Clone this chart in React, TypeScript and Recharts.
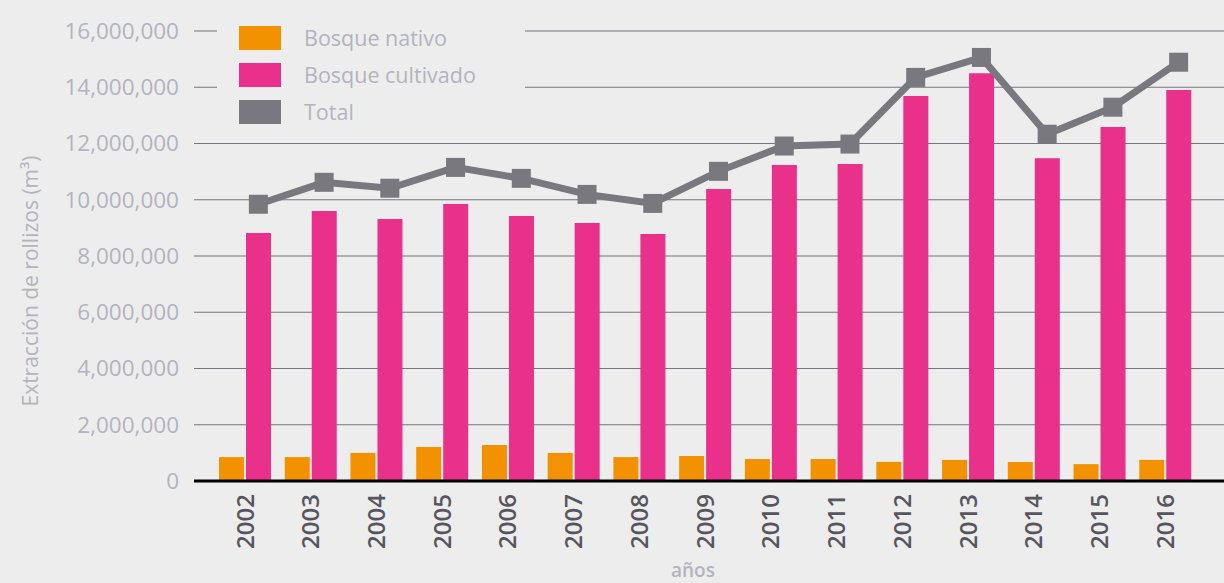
import React from 'react';
import { ComposedChart, Bar, Line, XAxis, YAxis, CartesianGrid, Legend } from 'recharts';

const years = ['2002', '2003', '2004', '2005', '2006', '2007', '2008', '2009', '2010', '2011', '2012', '2013', '2014', '2015', '2016'];
const bosqueNativo = [850000, 850000, 1000000, 1210000, 1280000, 1000000, 850000, 890000, 780000, 780000, 680000, 750000, 680000, 600000, 750000];
const bosqueCultivado = [8820000, 9600000, 9320000, 9850000, 9420000, 9170000, 8780000, 10380000, 11240000, 11270000, 13690000, 14500000, 11480000, 12590000, 13900000];
const totalValues = [9840000, 10620000, 10410000, 11150000, 10760000, 10190000, 9870000, 11010000, 11910000, 11980000, 14350000, 15060000, 12330000, 13290000, 14890000];
const yTicks = [0, 2000000, 4000000, 6000000, 8000000, 10000000, 12000000, 14000000, 16000000];

const data = years.map((y, i) => ({
  year: y,
  nativo: bosqueNativo[i],
  cultivado: bosqueCultivado[i],
  total: totalValues[i],
}));

const FONT = '"Open Sans", "DejaVu Sans", sans-serif';
const ORANGE = '#f39200';
const PINK = '#e9308a';
const GRAY = '#79787f';
const LIGHT_TEXT = '#b4b3bf';
const DARK_TEXT = '#57565f';

const legendItems = [
  { label: 'Bosque nativo', color: ORANGE },
  { label: 'Bosque cultivado', color: PINK },
  { label: 'Total', color: GRAY },
];

const LegendContent = () => (
  <div style={{ position: 'relative', width: 308, height: 110, background: '#ededed' }}>
    {legendItems.map((it, i) => (
      <div key={it.label} style={{ position: 'absolute', left: 22, top: 8 + i * 37, display: 'flex', alignItems: 'center' }}>
        <div style={{ width: 42, height: 24, background: it.color }} />
        <span style={{ marginLeft: 23, fontFamily: FONT, fontSize: 21.5, fontWeight: 500, color: LIGHT_TEXT, lineHeight: '24px' }}>{it.label}</span>
      </div>
    ))}
  </div>
);

const XTick = (props: any) => {
  const { x, y, payload } = props;
  return (
    <text
      x={0}
      y={0}
      dy="0.36em"
      textAnchor="end"
      transform={`translate(${x},${y + 13}) rotate(-90)`}
      fontFamily={FONT}
      fontSize={24}
      fontWeight={600}
      fill={DARK_TEXT}
    >
      {payload.value}
    </text>
  );
};

const SquareDot = (props: any) => {
  const { cx, cy, index } = props;
  if (cx == null || cy == null) return <g key={`d${index}`} />;
  return <rect key={`d${index}`} x={cx - 9.5} y={cy - 9.5} width={19} height={19} fill={GRAY} />;
};

const YLabel = (props: any) => {
  const vb = props.viewBox || {};
  const cy = (vb.y || 0) + (vb.height || 0) / 2 + 25;
  return (
    <text
      x={0}
      y={0}
      textAnchor="middle"
      dominantBaseline="central"
      transform={`translate(30,${cy}) rotate(-90)`}
      fontFamily={FONT}
      fontSize={21}
      fontWeight={500}
      fill={LIGHT_TEXT}
    >
      Extracción de rollizos (m³)
    </text>
  );
};

const XLabel = (props: any) => {
  const vb = props.viewBox || {};
  const cx = (vb.x || 0) + (vb.width || 0) / 2 - 16;
  return (
    <text x={cx} y={577} textAnchor="middle" fontFamily={FONT} fontSize={19} fontWeight={600} fill={LIGHT_TEXT}>
      años
    </text>
  );
};

export default function App() {
  return (
    <div style={{ position: 'absolute', left: 0, top: 0, width: 1224, height: 583, background: '#ededed', overflow: 'hidden' }}>
      <ComposedChart
        width={1224}
        height={583}
        data={data}
        margin={{ top: 31, right: 0, left: 0, bottom: 32 }}
        barGap={2}
      >
        <CartesianGrid vertical={false} stroke="#75757d" strokeWidth={1.2} />
        <XAxis
          dataKey="year"
          height={70}
          padding={{ left: 18, right: 26 }}
          tickLine={false}
          tickSize={0}
          tickMargin={0}
          axisLine={{ stroke: '#000000', strokeWidth: 3 }}
          tick={<XTick />}
          interval={0}
          label={<XLabel />}
        />
        <XAxis
          xAxisId="line"
          dataKey="year"
          hide
          padding={{ left: 31.5, right: 12.5 }}
        />
        <YAxis
          width={194}
          domain={[0, 16000000]}
          ticks={yTicks}
          tickFormatter={(v: number) => v.toLocaleString('en-US')}
          axisLine={false}
          tickLine={false}
          tickSize={0}
          tickMargin={15}
          tick={{ fill: LIGHT_TEXT, fontSize: 22.5, fontFamily: FONT }}
          label={<YLabel />}
        />
        <Legend
          layout="vertical"
          align="center"
          verticalAlign="middle"
          wrapperStyle={{ position: 'absolute', left: 217, top: 18, width: 308, height: 110 }}
          content={<LegendContent />}
        />
        <Bar dataKey="nativo" name="Bosque nativo" fill={ORANGE} barSize={25} isAnimationActive={false} />
        <Bar dataKey="cultivado" name="Bosque cultivado" fill={PINK} barSize={25} isAnimationActive={false} />
        <Line
          xAxisId="line"
          dataKey="total"
          name="Total"
          stroke={GRAY}
          strokeWidth={7}
          dot={<SquareDot />}
          activeDot={false}
          isAnimationActive={false}
        />
      </ComposedChart>
    </div>
  );
}
